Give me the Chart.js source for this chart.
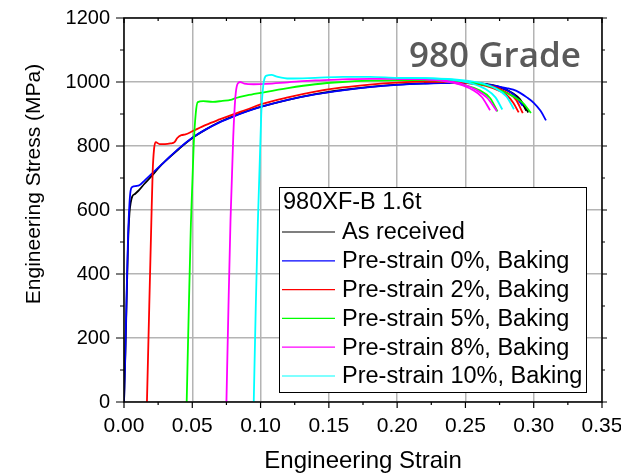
<!DOCTYPE html>
<html>
<head>
<meta charset="utf-8">
<script src="https://cdn.jsdelivr.net/npm/chart.js@4/dist/chart.umd.min.js"></script>
<style>
  body { margin: 0; background: #fff; }
  #wrap { width: 621px; height: 475px; }
</style>
</head>
<body>
<div id="wrap"><canvas id="chart-strain"></canvas></div>
<script>
// series names and colours (legend order)
const seriesLabels = ['As received', 'Pre-strain 0%, Baking', 'Pre-strain 2%, Baking',
  'Pre-strain 5%, Baking', 'Pre-strain 8%, Baking', 'Pre-strain 10%, Baking'];
const seriesColors = ['#000000', '#0000ff', '#ff0000', '#00ff00', '#ff00ff', '#00ffff'];

const xTicks = [0, 0.05, 0.10, 0.15, 0.20, 0.25, 0.30, 0.35];
const yTicks = [0, 200, 400, 600, 800, 1000, 1200];

// [strain, stress MPa]
const asReceived = [[0,0],[0.001,150],[0.002,330],[0.003,500],[0.004,590],[0.005,625],[0.006,642],[0.008,650],
  [0.011,662],[0.015,682],[0.02,705],[0.026,735],[0.03,752],[0.04,790],[0.05,825],[0.06,852],[0.07,875],
  [0.08,893],[0.09,909],[0.10,922],[0.12,944],[0.14,962],[0.16,975],[0.18,985],[0.20,992],[0.22,996],
  [0.24,997],[0.26,994],[0.27,988],[0.28,975],[0.285,962],[0.29,942],[0.2935,922],[0.296,905]];
const asReceivedB = [[0.22,997],[0.24,999],[0.26,996],[0.275,985],[0.285,964],[0.29,946],[0.2946,910]];

const preStrain0 = [[0,0],[0.001,160],[0.002,350],[0.003,520],[0.004,620],[0.0048,660],[0.006,672],[0.009,675],
  [0.0115,678],[0.015,692],[0.02,712],[0.03,752],[0.04,792],[0.05,826],[0.06,852],[0.07,874],[0.08,892],
  [0.09,908],[0.10,922],[0.12,944],[0.14,961],[0.16,974],[0.18,984],[0.20,991],[0.22,995],[0.24,997],
  [0.25,997],[0.26,994],[0.27,989],[0.28,981],[0.285,976],[0.29,966],[0.295,952],[0.30,935],[0.305,910],[0.309,880]];
const preStrain0B = [[0.22,996],[0.24,998],[0.26,995],[0.275,984],[0.285,962],[0.292,925]];

const preStrain2 = [[0.0168,0],[0.0185,300],[0.02,560],[0.021,720],[0.022,790],[0.0232,812],[0.026,806],
  [0.03,806],[0.034,808],[0.037,812],[0.039,825],[0.042,834],[0.045,836],[0.05,846],[0.06,866],[0.07,883],
  [0.08,899],[0.09,914],[0.10,930],[0.12,952],[0.14,970],[0.16,983],[0.18,992],[0.20,998],[0.22,1001],
  [0.24,1000],[0.255,995],[0.265,988],[0.275,972],[0.28,960],[0.285,935],[0.289,905]];
const preStrain2B = [[0.22,1001],[0.24,1001],[0.255,997],[0.27,986],[0.28,968],[0.287,945],[0.292,903]];

const preStrain5 = [[0.0459,0],[0.0475,300],[0.049,560],[0.051,800],[0.0525,900],[0.054,937],[0.058,940],
  [0.065,938],[0.072,941],[0.078,944],[0.082,950],[0.09,958],[0.10,966],[0.12,981],[0.14,993],[0.16,1000],
  [0.18,1004],[0.20,1006],[0.22,1007],[0.24,1005],[0.255,999],[0.265,990],[0.275,975],[0.285,955],
  [0.292,935],[0.298,903]];
const preStrain5B = [[0.20,1006],[0.22,1006],[0.235,1002],[0.25,990],[0.26,975],[0.268,950],[0.2735,908]];

const preStrain8 = [[0.075,0],[0.0765,300],[0.078,570],[0.080,830],[0.0815,950],[0.083,993],[0.085,1000],
  [0.088,995],[0.095,993],[0.104,994],[0.12,999],[0.14,1005],[0.16,1008],[0.18,1010],[0.20,1010],
  [0.22,1008],[0.235,1002],[0.245,993],[0.255,976],[0.262,953],[0.268,912]];
const preStrain8B = [[0.20,1010],[0.22,1009],[0.235,1004],[0.248,993],[0.258,975],[0.266,950],[0.273,909]];

const preStrain10 = [[0.095,0],[0.0965,300],[0.098,560],[0.1005,900],[0.102,990],[0.1045,1020],[0.108,1022],
  [0.112,1017],[0.121,1011],[0.14,1013],[0.16,1016],[0.18,1016],[0.20,1013],[0.22,1012],[0.24,1007],
  [0.255,995],[0.265,977],[0.272,952],[0.277,914]];
const preStrain10B = [[0.20,1013],[0.22,1012],[0.24,1009],[0.26,998],[0.272,980],[0.28,955],[0.2855,915]];

const seriesCurves = [
  [asReceived, asReceivedB],
  [preStrain0, preStrain0B],
  [preStrain2, preStrain2B],
  [preStrain5, preStrain5B],
  [preStrain8, preStrain8B],
  [preStrain10, preStrain10B]
];

const FONT = "'Liberation Sans', Arial, sans-serif";

const datasets = [];
seriesCurves.forEach((curves, s) => {
  curves.forEach(c => {
    datasets.push({
      label: seriesLabels[s],
      data: c.map(p => ({ x: p[0], y: p[1] })),
      borderColor: seriesColors[s],
      backgroundColor: seriesColors[s],
      borderWidth: 1.8,
      showLine: true,
      pointRadius: 0,
      cubicInterpolationMode: 'monotone'
    });
  });
});
// later series on top, like the original plot
datasets.forEach((d, i) => d.order = datasets.length - i);

const framePlugin = {
  id: 'frame',
  afterDatasetsDraw(chart) {
    const ctx = chart.ctx;
    const { left, right, top, bottom } = chart.chartArea;
    const x = chart.scales.x, y = chart.scales.y;
    ctx.save();

    // title text
    ctx.fillStyle = '#5a5a5a';
    ctx.font = "600 35px 'Open Sans', sans-serif";
    ctx.textAlign = 'left';
    ctx.textBaseline = 'alphabetic';
    ctx.fillText('980 Grade', 409, 67);

    // frame + ticks
    ctx.strokeStyle = '#000';
    ctx.lineWidth = 1.5;
    ctx.strokeRect(left, top, right - left, bottom - top);
    ctx.lineWidth = 1.2;
    ctx.beginPath();
    xTicks.forEach((v, i) => {
      const px = x.getPixelForValue(v);
      ctx.moveTo(px, bottom); ctx.lineTo(px, bottom + 6);
      ctx.moveTo(px, top); ctx.lineTo(px, top + 5);
      if (i < xTicks.length - 1) {
        const mx = x.getPixelForValue((v + xTicks[i + 1]) / 2);
        ctx.moveTo(mx, bottom); ctx.lineTo(mx, bottom + 3);
        ctx.moveTo(mx, top); ctx.lineTo(mx, top + 3);
      }
    });
    yTicks.forEach((v, i) => {
      const py = y.getPixelForValue(v);
      ctx.moveTo(left, py); ctx.lineTo(left - 8, py);
      ctx.moveTo(right, py); ctx.lineTo(right + 5, py);
      if (i < yTicks.length - 1) {
        const my = y.getPixelForValue((v + yTicks[i + 1]) / 2);
        ctx.moveTo(left, my); ctx.lineTo(left - 4, my);
        ctx.moveTo(right, my); ctx.lineTo(right + 3, my);
      }
    });
    ctx.stroke();

    // axis titles
    ctx.fillStyle = '#000';
    ctx.textAlign = 'center';
    ctx.textBaseline = 'middle';
    ctx.font = '24px ' + FONT;
    ctx.fillText('Engineering Strain', (left + right) / 2, 461);
    ctx.save();
    ctx.translate(34, 184);
    ctx.rotate(-Math.PI / 2);
    ctx.font = '21px ' + FONT;
    ctx.fillText('Engineering Stress (MPa)', 0, 0);
    ctx.restore();

    // legend box
    const lx = 279, ly = 187, lw = 307, lh = 205;
    ctx.fillStyle = '#fff';
    ctx.fillRect(lx, ly, lw, lh);
    ctx.lineWidth = 1;
    ctx.strokeStyle = '#000';
    ctx.strokeRect(lx + 0.5, ly + 0.5, lw, lh);
    ctx.fillStyle = '#000';
    ctx.font = '23.5px ' + FONT;
    ctx.textAlign = 'left';
    ctx.textBaseline = 'middle';
    ctx.fillText('980XF-B 1.6t', lx + 4, 203);
    seriesLabels.forEach((lab, i) => {
      const ry = 232 + i * 28.8;
      ctx.strokeStyle = seriesColors[i];
      ctx.lineWidth = 1.2;
      ctx.beginPath();
      ctx.moveTo(282, ry); ctx.lineTo(335, ry);
      ctx.stroke();
      ctx.fillStyle = '#000';
      ctx.fillText(lab, 342, ry + 1);
    });
    ctx.restore();
  }
};

const ctx = document.getElementById('chart-strain').getContext('2d');
const chart = new Chart(ctx, {
  type: 'scatter',
  data: { datasets: datasets },
  options: {
    responsive: true,
    maintainAspectRatio: false,
    animation: false,
    layout: { padding: { top: 18, right: 19, left: 0, bottom: 0 } },
    plugins: {
      legend: { display: false },
      tooltip: { enabled: false }
    },
    scales: {
      x: {
        type: 'linear',
        min: 0,
        max: 0.35,
        afterFit(scale) {
          scale.height = 73;
          scale.paddingLeft = 0;
          scale.paddingRight = 0;
        },
        afterBuildTicks(scale) { scale.ticks = xTicks.map(v => ({ value: v })); },
        ticks: {
          color: '#000',
          font: { family: FONT, size: 21 },
          padding: 12,
          maxRotation: 0,
          autoSkip: false,
          callback: v => v.toFixed(2)
        },
        grid: { color: '#b4b4b4', lineWidth: 1.5, drawTicks: false },
        border: { display: false }
      },
      y: {
        type: 'linear',
        min: 0,
        max: 1200,
        afterFit(scale) {
          scale.width = 124;
          scale.paddingTop = 0;
          scale.paddingBottom = 0;
        },
        afterBuildTicks(scale) { scale.ticks = yTicks.map(v => ({ value: v })); },
        ticks: {
          color: '#000',
          font: { family: FONT, size: 20 },
          padding: 14,
          autoSkip: false,
          callback: v => String(v)
        },
        grid: { color: '#b4b4b4', lineWidth: 1.5, drawTicks: false },
        border: { display: false }
      }
    }
  },
  plugins: [framePlugin]
});
</script>
</body>
</html>
